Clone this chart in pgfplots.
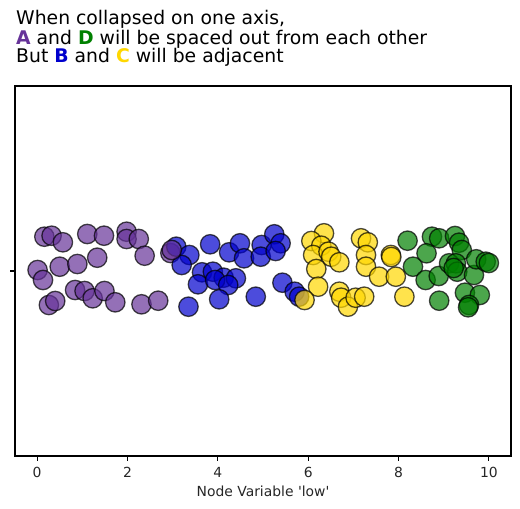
\documentclass[border=0pt]{standalone}
\usepackage{pgfplots}
\pgfplotsset{compat=1.18}
\usepackage{fontspec}
\setmainfont{DejaVu Sans}
\newfontfamily\plainfont{DejaVu Sans}[Ligatures=TeXOff]
\definecolor{cA}{HTML}{663399}
\definecolor{cB}{HTML}{0000CD}
\definecolor{cC}{HTML}{FFD700}
\definecolor{cD}{HTML}{008000}
\begin{document}
\begin{tikzpicture}
\path[use as bounding box] (0,0) rectangle (520bp,509bp);
\begin{axis}[
  at={(15bp,53bp)}, anchor=south west,
  scale only axis, width=496bp, height=370bp,
  xmin=-0.49, xmax=10.49, ymin=-185, ymax=185,
  xtick={0,2,4,6,8,10}, ytick={0}, yticklabels={},
  tick align=outside, tick pos=left,
  major tick length=4.9bp,
  axis line style={line width=1.1bp},
  tick style={line width=1.1bp, black},
  /pgf/number format/assume math mode=true,
  ticklabel style={font=\fontsize{13.9bp}{16bp}\selectfont, text=black!85},
  xticklabel style={anchor=base, yshift=-16.4bp},
  xlabel={\plainfont Node Variable 'low'},
  xlabel style={at={(axis description cs:0.5,0)}, anchor=base, yshift=-40.7bp, font=\fontsize{13.9bp}{16bp}\selectfont, text=black!85},
  every axis plot/.append style={only marks, mark=*, mark size=9.7bp, line width=1.3bp},
]
\addplot[mark options={fill=cA, draw=black, fill opacity=0.7, draw opacity=0.7}] table {
x y
0.16 34.3
0.32 35.3
0.57 28.7
1.11 37
1.48 35.3
1.98 39.3
1.98 32
2.25 32
2.38 15.3
0.01 1
0.13 -9
0.50 4.3
0.89 7
1.33 13.3
0.84 -19
1.05 -20
1.23 -27.3
1.49 -20
1.73 -31.3
0.26 -34
0.40 -30
2.31 -33.3
2.68 -29.7
2.95 18
};
\addplot[mark options={fill=cB, draw=black, fill opacity=0.7, draw opacity=0.7}] table {
x y
3.08 24.3
3.37 16
3.20 6
3.83 26.7
4.25 18.7
4.49 27.7
4.58 12.7
4.97 26
4.95 14.3
5.25 36.7
5.39 27.7
5.28 20
3.65 -1.3
3.89 -0.7
4.13 -6.7
4.40 -7.3
3.56 -13.3
3.94 -9
4.23 -14
4.03 -28.3
3.35 -35.7
4.84 -25.7
5.43 -11.7
5.70 -20.7
5.80 -25.7
};
\addplot[mark options={fill=cA, draw=black, fill opacity=0.7, draw opacity=0.7}] table {
x y
2.98 21
};
\addplot[mark options={fill=cC, draw=black, fill opacity=0.7, draw opacity=0.7}] table {
x y
6.35 37.7
6.07 30
6.29 25.3
6.11 16
6.45 19.3
6.51 14.3
6.69 8.7
6.18 2
6.22 -15.7
5.92 -29
7.17 32.7
7.32 28.7
7.28 16
7.28 4.3
7.57 -5.7
7.83 16
7.84 14
7.94 -5.7
8.13 -25.7
6.69 -20.7
6.73 -26.7
6.88 -35.7
7.05 -26.7
7.24 -25.7
};
\addplot[mark options={fill=cD, draw=black, fill opacity=0.7, draw opacity=0.7}] table {
x y
8.20 30.3
8.74 34.3
8.90 32.7
9.25 35
9.34 28.3
9.40 21
8.62 17.7
8.32 4.3
8.60 -9
8.89 -5
9.12 7.7
9.27 7.7
9.30 -0.7
9.22 3
9.67 -4
9.72 11.7
9.93 9.3
10.0 8
8.90 -29.7
9.47 -21.7
9.80 -24
9.56 -34
9.54 -36.3
};
\end{axis}
\begin{scope}[every node/.style={inner sep=0pt, anchor=base west, font=\fontsize{18.8bp}{20bp}\selectfont}]
\node at (16bp,484bp) {When collapsed on one axis,};
\node at (16bp,464.7bp) {\textcolor{cA}{\textbf{A}} and \textcolor{cD}{\textbf{D}} will be spaced out from each other};
\node at (16bp,446.3bp) {But \textcolor{cB}{\textbf{B}} and \textcolor{cC}{\textbf{C}} will be adjacent};
\end{scope}
\end{tikzpicture}
\end{document}
